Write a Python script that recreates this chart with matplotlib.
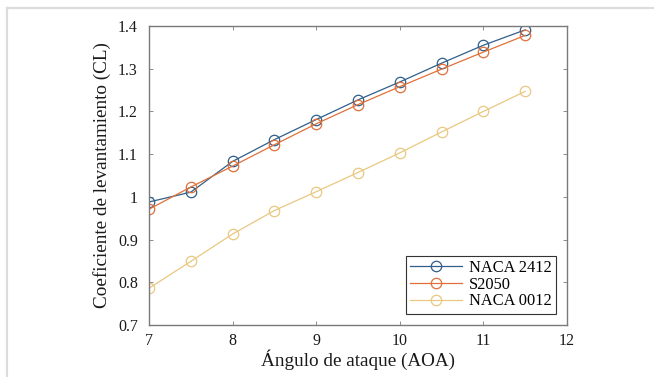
import matplotlib
matplotlib.use("Agg")
import matplotlib.pyplot as plt
from matplotlib.lines import Line2D

aoa = [7, 7.5, 8, 8.5, 9, 9.5, 10, 10.5, 11, 11.5]
cl_naca2412 = [0.988, 1.011, 1.083, 1.134, 1.181, 1.227, 1.269, 1.313, 1.355, 1.391]
cl_s2050 = [0.971, 1.023, 1.072, 1.122, 1.171, 1.216, 1.258, 1.299, 1.339, 1.378]
cl_naca0012 = [0.786, 0.849, 0.913, 0.968, 1.012, 1.057, 1.103, 1.152, 1.200, 1.247]
series_names = ["NACA 2412", "S2050", "NACA 0012"]
xticks = [7, 8, 9, 10, 11, 12]
yticks = [0.7, 0.8, 0.9, 1.0, 1.1, 1.2, 1.3, 1.4]

colors = ["#2f5f8a", "#e0703a", "#e9c880"]

plt.rcParams["font.family"] = ["Liberation Serif", "DejaVu Serif"]

fig = plt.figure(figsize=(6.54, 3.77), dpi=100)
# light page frame (top and left edges)
fig.add_artist(Line2D([7 / 654, 7 / 654], [0, 1 - 8 / 377], transform=fig.transFigure,
                      color="#dcdcdc", lw=1.6))
fig.add_artist(Line2D([7 / 654, 1], [1 - 8 / 377, 1 - 8 / 377], transform=fig.transFigure,
                      color="#dcdcdc", lw=1.6))

ax = fig.add_axes([149 / 654, 1 - 325 / 377, (567 - 149) / 654, (325 - 26) / 377])

for vals, name, c in zip([cl_naca2412, cl_s2050, cl_naca0012], series_names, colors):
    ax.plot(aoa, vals, "-o", color=c, lw=0.9, ms=7.5, mfc="none", mew=0.9, label=name)

ax.set_xlim(7, 12)
ax.set_ylim(0.7, 1.4)
ax.set_xticks(xticks)
ax.set_yticks(yticks)
ax.set_yticklabels(["0.7", "0.8", "0.9", "1", "1.1", "1.2", "1.3", "1.4"])
ax.tick_params(direction="in", top=True, right=True, length=3, width=0.6,
               colors="#7a7a7a", labelcolor="#1a1a1a", labelsize=11.5)
ax.tick_params(axis="y", pad=8)
ax.tick_params(axis="x", pad=6)
for sp in ax.spines.values():
    sp.set_color("#7a7a7a")
    sp.set_linewidth(1.0)

ax.set_xlabel("Ángulo de ataque (AOA)", fontsize=13.8, labelpad=0, color="#1a1a1a")
ax.set_ylabel("Coeficiente de levantamiento (CL)", fontsize=13.8, labelpad=5, color="#1a1a1a")

leg = ax.legend(loc="lower right", fontsize=11.8, fancybox=False, framealpha=1,
                edgecolor="#333333", borderpad=0.25, labelspacing=0.05,
                handlelength=3.2, handletextpad=0.4, borderaxespad=0.7)
leg.get_frame().set_linewidth(0.8)

fig.savefig("out.png", dpi=100)
